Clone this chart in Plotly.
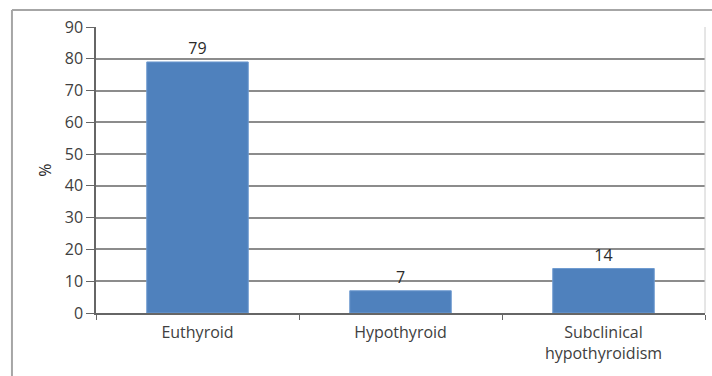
import plotly.graph_objects as go

categories = ["Euthyroid", "Hypothyroid", "Subclinical<br>hypothyroidism"]
percentages = [79, 7, 14]
y_ticks = [0, 10, 20, 30, 40, 50, 60, 70, 80, 90]

text_color = "#404040"
font_family = "Open Sans, Noto Sans, sans-serif"

fig = go.Figure(
    go.Bar(
        x=categories,
        y=percentages,
        width=0.5,
        marker=dict(color="#4f81bd", line=dict(color="#6f9bd0", width=1)),
        text=percentages,
        textposition="outside",
        textfont=dict(size=16, color="#2a2a2a", family=font_family),
        cliponaxis=False,
    )
)

fig.update_layout(
    width=712,
    height=376,
    margin=dict(l=96, r=7, t=27, b=63),
    paper_bgcolor="white",
    plot_bgcolor="white",
    showlegend=False,
    font=dict(family=font_family, size=16, color=text_color),
    bargap=0.5,
)

fig.update_yaxes(
    range=[0, 90],
    tickvals=y_ticks,
    showgrid=True,
    gridcolor="#8c8c8c",
    gridwidth=1.5,
    showline=True,
    linecolor="#666666",
    linewidth=1.5,
    ticks="outside",
    ticklen=8,
    tickcolor="#666666",
    tickfont=dict(size=16, color=text_color),
    zeroline=False,
)

fig.update_xaxes(
    showline=True,
    linecolor="#666666",
    linewidth=1.5,
    ticks="outside",
    tickson="boundaries",
    ticklen=5,
    tickcolor="#666666",
    tickfont=dict(size=16, color=text_color),
    ticklabelstandoff=4,
)

# y axis title
fig.add_annotation(
    text="%", xref="paper", yref="paper", x=-0.084, y=0.5,
    xanchor="center", yanchor="middle",
    textangle=-90, showarrow=False, font=dict(size=16, color="#2a2a2a"),
)

# chart frame (left and top edges) and plot-area right border
fig.add_shape(type="line", xref="paper", yref="paper",
              x0=-0.138, x1=-0.138, y0=-0.23, y1=1.0594,
              line=dict(color="#a6a6a6", width=2))
fig.add_shape(type="line", xref="paper", yref="paper",
              x0=-0.138, x1=1.02, y0=1.0594, y1=1.0594,
              line=dict(color="#a6a6a6", width=2))
fig.add_shape(type="line", xref="paper", yref="paper",
              x0=1, x1=1, y0=0, y1=1,
              line=dict(color="#cccccc", width=1))

fig.write_html("out.html")
